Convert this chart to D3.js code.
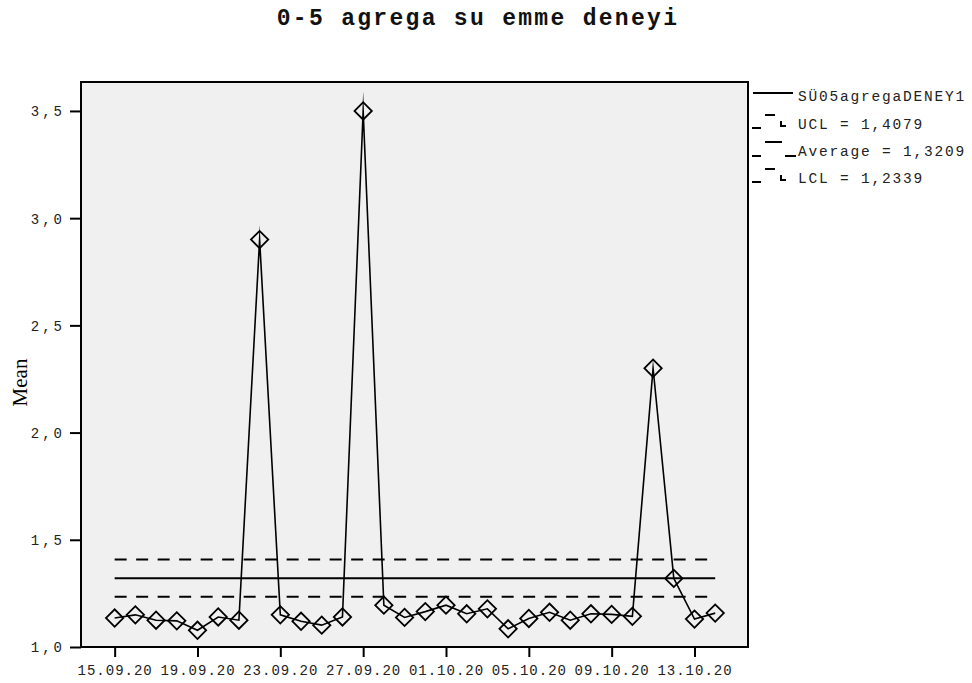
<!DOCTYPE html>
<html>
<head>
<meta charset="utf-8">
<script src="https://cdn.jsdelivr.net/npm/d3@7/dist/d3.min.js"></script>
<style>
  html, body { margin: 0; padding: 0; background: #ffffff; }
  svg { display: block; }
  text { font-family: "Liberation Mono", "DejaVu Sans Mono", monospace; fill: #222; }
</style>
</head>
<body>
<svg id="chart" width="972" height="683"></svg>
<script>
// Daily sample dates (x categories)
const dates = [
  "15.09.20","16.09.20","17.09.20","18.09.20","19.09.20","20.09.20","21.09.20","22.09.20",
  "23.09.20","24.09.20","25.09.20","26.09.20","27.09.20","28.09.20","29.09.20","30.09.20",
  "01.10.20","02.10.20","03.10.20","04.10.20","05.10.20","06.10.20","07.10.20","08.10.20",
  "09.10.20","10.10.20","11.10.20","12.10.20","13.10.20","14.10.20"
];
// Daily means of SÜ05agregaDENEY1
const means = [
  1.135, 1.150, 1.125, 1.122, 1.078, 1.140, 1.125, 2.900,
  1.150, 1.120, 1.102, 1.140, 3.500, 1.195, 1.138, 1.165,
  1.195, 1.155, 1.178, 1.085, 1.133, 1.162, 1.125, 1.155,
  1.152, 1.143, 2.300, 1.320, 1.130, 1.158
];
// Control limits
const limitNames = ["UCL", "Average", "LCL"];
const limitValues = [1.4079, 1.3209, 1.2339];
// Axis ticks
const xTickLabels = ["15.09.20","19.09.20","23.09.20","27.09.20","01.10.20","05.10.20","09.10.20","13.10.20"];
const yTickValues = [1.0, 1.5, 2.0, 2.5, 3.0, 3.5];
const yTickLabels = ["1,0", "1,5", "2,0", "2,5", "3,0", "3,5"];
const seriesName = "SÜ05agregaDENEY1";
const titleText = "0-5 agrega su emme deneyi";
const yTitle = "Mean";

const svg = d3.select("#chart");
const plot = { left: 81, top: 82, right: 748, bottom: 647 };

const parse = d3.timeParse("%d.%m.%y");
const fmtComma = d3.formatLocale({ decimal: ",", thousands: ".", grouping: [3], currency: ["", ""] }).format(".4f");

const firstDay = parse(dates[0]);
const lastDay = parse(dates[dates.length - 1]);
const padDays = 1.6;
const x = d3.scaleTime()
  .domain([d3.timeHour.offset(firstDay, -padDays * 24), d3.timeHour.offset(lastDay, padDays * 24)])
  .range([plot.left, plot.right]);
const y = d3.scaleLinear()
  .domain([1.0, 3.635])
  .range([plot.bottom, plot.top]);

// Title
svg.append("text")
  .attr("x", 478).attr("y", 25)
  .attr("text-anchor", "middle")
  .style("font-size", "23px").style("font-weight", "bold")
  .style("letter-spacing", "2.3px").style("fill", "#111")
  .text(titleText);

// Plot background
svg.append("rect")
  .attr("x", plot.left).attr("y", plot.top)
  .attr("width", plot.right - plot.left).attr("height", plot.bottom - plot.top)
  .attr("fill", "#f0f0f0").attr("stroke", "none");

// Control limit lines
const xStart = x(firstDay), xEnd = x(lastDay);
const limitG = svg.append("g");
limitValues.forEach((v, i) => {
  limitG.append("line")
    .attr("x1", xStart).attr("x2", xEnd)
    .attr("y1", y(v)).attr("y2", y(v))
    .attr("stroke", "#000").attr("stroke-width", 2)
    .attr("stroke-dasharray", limitNames[i] === "Average" ? null : "12,9.5");
});

// Series line
const pts = dates.map((d, i) => ({ date: parse(d), value: means[i] }));
svg.append("path")
  .datum(pts)
  .attr("fill", "none")
  .attr("stroke", "#000")
  .attr("stroke-width", 1.6)
  .attr("stroke-linejoin", "miter")
  .attr("stroke-miterlimit", 30)
  .attr("d", d3.line().x(d => x(d.date)).y(d => y(d.value)));

// Diamond markers
const diamond = d3.symbol().type(d3.symbolSquare).size(150);
svg.append("g").selectAll("path")
  .data(pts)
  .join("path")
  .attr("transform", d => `translate(${x(d.date)},${y(d.value)}) rotate(45)`)
  .attr("d", diamond)
  .attr("fill", "none")
  .attr("stroke", "#000")
  .attr("stroke-width", 1.8);

// Frame border on top
svg.append("rect")
  .attr("x", plot.left).attr("y", plot.top)
  .attr("width", plot.right - plot.left).attr("height", plot.bottom - plot.top)
  .attr("fill", "none").attr("stroke", "#000").attr("stroke-width", 2);

// X axis
const xAxis = d3.axisBottom(x)
  .tickValues(xTickLabels.map(parse))
  .tickSize(10)
  .tickFormat((d, i) => xTickLabels[i]);
const gx = svg.append("g")
  .attr("transform", `translate(0,${plot.bottom})`)
  .call(xAxis);
gx.select(".domain").remove();
gx.selectAll(".tick line").attr("stroke", "#000").attr("stroke-width", 2);
gx.selectAll(".tick text")
  .attr("y", 18).attr("dy", "0.71em").attr("dx", 0)
  .style("font-size", "14px").style("letter-spacing", "1px")
  .style("font-family", "'Liberation Mono', monospace");

// Y axis
const yAxis = d3.axisLeft(y)
  .tickValues(yTickValues)
  .tickSize(11)
  .tickFormat((d, i) => yTickLabels[i]);
const gy = svg.append("g")
  .attr("transform", `translate(${plot.left},0)`)
  .call(yAxis);
gy.select(".domain").remove();
gy.selectAll(".tick line").attr("stroke", "#000").attr("stroke-width", 2);
gy.selectAll(".tick text")
  .attr("x", -16).attr("dy", "0.35em")
  .style("font-size", "14px").style("letter-spacing", "3px")
  .style("font-family", "'Liberation Mono', monospace");

// Y axis title
svg.append("text")
  .attr("transform", `translate(27,${(plot.top + plot.bottom) / 2 + 18}) rotate(-90)`)
  .attr("text-anchor", "middle")
  .style("font-family", "'Liberation Serif', 'Times New Roman', serif")
  .style("font-size", "21px").style("fill", "#000")
  .text(yTitle);

// Legend
const lg = svg.append("g").attr("transform", "translate(750,0)");
const rowY = [96, 124, 151, 178];
const legendTexts = [seriesName].concat(limitNames.map((n, i) => `${n} = ${fmtComma(limitValues[i])}`));
lg.selectAll("text.leg")
  .data(legendTexts)
  .join("text")
  .attr("class", "leg")
  .attr("x", 48).attr("y", (d, i) => rowY[i]).attr("dy", "0.35em")
  .style("font-size", "14.5px").style("letter-spacing", "1.8px")
  .text(d => d);
// row 0: solid line sample
lg.append("line").attr("x1", 3).attr("x2", 43).attr("y1", rowY[0] - 3).attr("y2", rowY[0] - 3)
  .attr("stroke", "#000").attr("stroke-width", 2);
// rows 1 & 3: dashed limit samples
[1, 3].forEach(r => {
  const yy = rowY[r];
  lg.append("line").attr("x1", 2).attr("x2", 11).attr("y1", yy + 4).attr("y2", yy + 4)
    .attr("stroke", "#000").attr("stroke-width", 2);
  lg.append("line").attr("x1", 15).attr("x2", 25).attr("y1", yy - 9).attr("y2", yy - 9)
    .attr("stroke", "#000").attr("stroke-width", 2);
  lg.append("path").attr("d", `M31,${yy - 3}V${yy + 2}H36`)
    .attr("fill", "none").attr("stroke", "#000").attr("stroke-width", 2);
});
// row 2: average sample
{
  const yy = rowY[2];
  lg.append("line").attr("x1", 2).attr("x2", 11).attr("y1", yy + 5).attr("y2", yy + 5)
    .attr("stroke", "#000").attr("stroke-width", 2);
  lg.append("line").attr("x1", 15).attr("x2", 32).attr("y1", yy - 9).attr("y2", yy - 9)
    .attr("stroke", "#000").attr("stroke-width", 2);
  lg.append("line").attr("x1", 35).attr("x2", 46).attr("y1", yy + 5).attr("y2", yy + 5)
    .attr("stroke", "#000").attr("stroke-width", 2);
}
</script>
</body>
</html>
